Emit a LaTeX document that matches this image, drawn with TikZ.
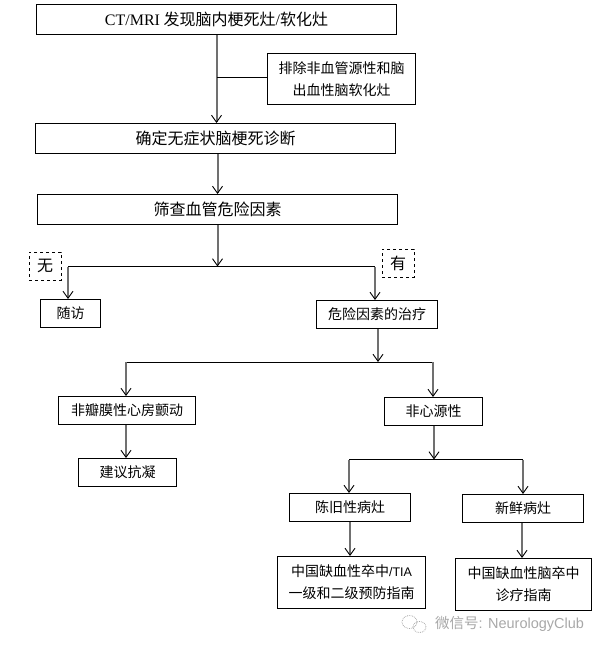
\documentclass[tikz,border=0pt]{standalone}
\usepackage{fontspec}
\setmainfont{Noto Sans CJK SC}
\newfontfamily\serifpart{Liberation Serif}
\newfontfamily\sanspart{Liberation Sans}
\usetikzlibrary{arrows.meta}
\definecolor{shaftgrey}{HTML}{707070}
\definecolor{markgrey}{HTML}{A8A8A8}
\tikzset
    {   largebox/.style =
        {   draw
        ,   line width = 1pt
        ,   minimum height = 30pt
        ,   inner sep = 0pt
        ,   font = \fontsize{16}{22}\selectfont
        }
    ,   smallbox/.style =
        {   draw
        ,   line width = 1pt
        ,   inner sep = 0pt
        ,   align = center
        ,   font = \fontsize{14}{22}\selectfont
        }
    ,   dashbox/.style =
        {   smallbox
        ,   dashed
        ,   minimum width = 32pt
        ,   minimum height = 28pt
        ,   font = \fontsize{16}{22}\selectfont
        }
    ,   flow/.style =
        {   draw = shaftgrey
        ,   line width = 2pt
        ,   -{Straight Barb[black, length = 7pt, width = 10pt, line width = 0.9pt]}
        }
    ,   bus/.style =
        {   draw
        ,   line width = 1pt
        }
    }
\begin{document}
\begin{tikzpicture}
        [   x = 1pt
        ,   y = -1pt
        ]
        \useasboundingbox (0,0) rectangle (610,652);
        % main column
        \node[largebox, minimum width = 360pt] (finding) at (216.5,19.5)
            {{\serifpart CT/MRI} 发现脑内梗死灶{\serifpart /}软化灶};
        \node[smallbox, minimum width = 148pt, minimum height = 51.5pt] (exclude) at (341.5,79.25)
            {排除非血管源性和脑\\出血性脑软化灶};
        \node[largebox, minimum width = 360pt] (confirm) at (215.5,138.5) {确定无症状脑梗死诊断};
        \node[largebox, minimum width = 360pt] (screen) at (217.5,209.5) {筛查血管危险因素};
        \node[dashbox] (none) at (45,266) {无};
        \node[dashbox] (some) at (398,263) {有};
        % first split
        \node[smallbox, minimum width = 60pt, minimum height = 28pt] (followup) at (70.5,313.5) {随访};
        \node[smallbox, minimum width = 121pt, minimum height = 28pt] (treat) at (377,314.5) {危险因素的治疗};
        % second split
        \node[smallbox, minimum width = 137pt, minimum height = 28pt] (afib) at (127,410.5) {非瓣膜性心房颤动};
        \node[smallbox, minimum width = 98pt, minimum height = 28pt] (noncardiac) at (433.5,411.5) {非心源性};
        \node[smallbox, minimum width = 98pt, minimum height = 28pt] (anticoag) at (127.5,472.5) {建议抗凝};
        % third split
        \node[smallbox, minimum width = 121pt, minimum height = 28pt] (oldlesion) at (350,507.5) {陈旧性病灶};
        \node[smallbox, minimum width = 121pt, minimum height = 28pt] (newlesion) at (523,508.5) {新鲜病灶};
        \node[smallbox, minimum width = 148pt, minimum height = 52pt] (secondary) at (351.5,582.5)
            {中国缺血性卒中{\sanspart\fontsize{12.5}{22}\selectfont /TIA}\\一级和二级预防指南};
        \node[smallbox, minimum width = 136pt, minimum height = 52pt] (acute) at (523.5,584.5)
            {中国缺血性脑卒中\\诊疗指南};
        % junctions
        \coordinate (excludejoin) at (216.5,77.5);
        \coordinate (riskjoin) at (217.5,266.5);
        \coordinate (riskleft) at (68,266.5);
        \coordinate (riskright) at (375,266.5);
        \coordinate (treatjoin) at (378,362);
        \coordinate (treatleft) at (126,362);
        \coordinate (treatright) at (433,362);
        \coordinate (lesionjoin) at (434,459.5);
        \coordinate (lesionleft) at (349,459.5);
        \coordinate (lesionright) at (523,459.5);
        % connectors
        \draw[flow] (finding.south) -- (finding.south |- confirm.north);
        \draw[bus] (exclude.west |- excludejoin) -- (excludejoin);
        \draw[flow] (confirm.south -| screen.north) -- (screen.north);
        \draw[flow] (screen.south) -- (riskjoin);
        \draw[bus] (riskleft) -- (riskright);
        \draw[flow] (riskleft) -- (riskleft |- followup.north);
        \draw[flow] (riskright) -- (riskright |- treat.north);
        \draw[flow] (treat.south -| treatjoin) -- (treatjoin);
        \draw[bus] (treatleft) -- (treatright);
        \draw[flow] (treatleft) -- (treatleft |- afib.north);
        \draw[flow] (treatright) -- (treatright |- noncardiac.north);
        \draw[flow] (treatleft |- afib.south) -- (treatleft |- anticoag.north);
        \draw[flow] (noncardiac.south -| lesionjoin) -- (lesionjoin);
        \draw[bus] (lesionleft) -- (lesionright);
        \draw[flow] (lesionleft) -- (lesionleft |- oldlesion.north);
        \draw[flow] (lesionright) -- (lesionright |- newlesion.north);
        \draw[flow] (oldlesion.south) -- (oldlesion.south |- secondary.north);
        \draw[flow] ([xshift=-1pt]newlesion.south) -- ([xshift=-1pt]newlesion.south |- acute.north);
        % watermark
        \node[text = markgrey, inner sep = 0pt, anchor = west, font = \fontsize{14.5}{16}\selectfont] (mark) at (435,624)
            {微信号{\sanspart : NeurologyClub}};
        \draw[markgrey, densely dotted, line width = 0.8pt] (409.5,622) ellipse (7.5pt and 6.5pt);
        \draw[markgrey, densely dotted, line width = 0.8pt] (419.5,627) ellipse (6.5pt and 5.5pt);
    \end{tikzpicture}
\end{document}
